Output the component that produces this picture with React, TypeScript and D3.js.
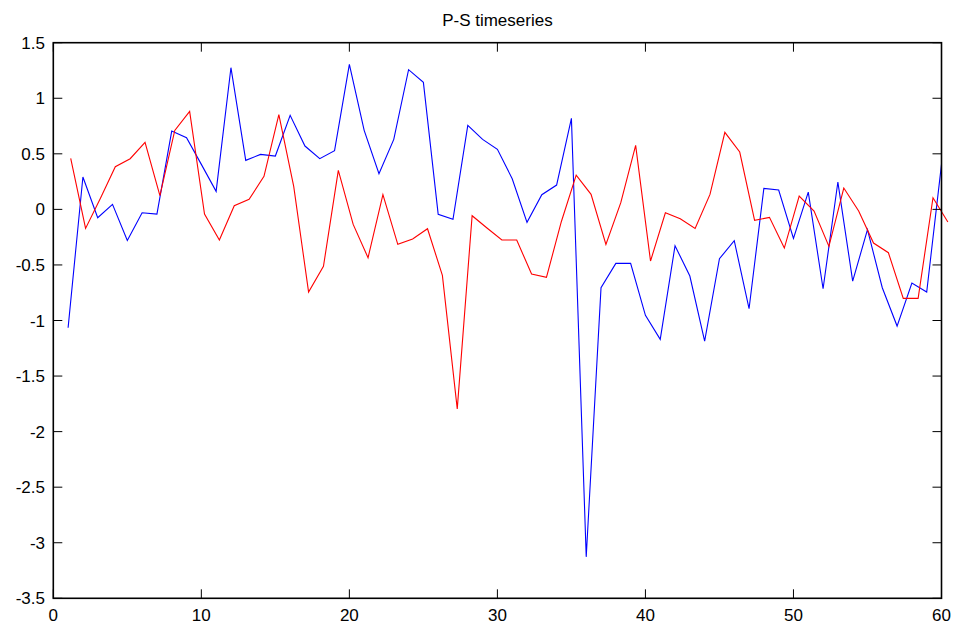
import React from "react";
import * as d3 from "d3";

// P and S series sampled over 60 steps
const pSeries: number[] = [
  -1.065, 0.291, -0.075, 0.045, -0.28, -0.03, -0.042, 0.705, 0.645, 0.405,
  0.162, 1.275, 0.441, 0.495, 0.48, 0.846, 0.57, 0.456, 0.528, 1.305,
  0.711, 0.321, 0.63, 1.257, 1.143, -0.045, -0.09, 0.756, 0.63, 0.54,
  0.276, -0.117, 0.132, 0.219, 0.819, -3.127, -0.705, -0.486, -0.486, -0.954,
  -1.17, -0.327, -0.6, -1.185, -0.444, -0.282, -0.894, 0.189, 0.174, -0.261,
  0.156, -0.714, 0.246, -0.645, -0.183, -0.705, -1.05, -0.663, -0.744, 0.405,
];

const sSeries: number[] = [
  0.459, -0.171, 0.1, 0.384, 0.456, 0.603, 0.123, 0.71, 0.882, -0.042,
  -0.276, 0.033, 0.09, 0.297, 0.852, 0.207, -0.744, -0.513, 0.351, -0.135,
  -0.435, 0.132, -0.315, -0.267, -0.174, -0.594, -1.795, -0.057, -0.168, -0.276,
  -0.276, -0.582, -0.612, -0.111, 0.309, 0.135, -0.315, 0.06, 0.576, -0.465,
  -0.03, -0.084, -0.171, 0.135, 0.693, 0.516, -0.099, -0.072, -0.348, 0.12,
  -0.015, -0.333, 0.192, -0.015, -0.303, -0.39, -0.801, -0.801, 0.105, -0.114,
];

// S samples sit on a slightly offset, slightly stretched time base
const sStart = 1.176;
const sStep = 1.0043;

const xTicks: number[] = [0, 10, 20, 30, 40, 50, 60];
const yTicks: number[] = [1.5, 1, 0.5, 0, -0.5, -1, -1.5, -2, -2.5, -3, -3.5];

const W = 959;
const H = 629;
const left = 53.3;
const right = 941.5;
const top = 42.7;
const bottom = 598.3;
const tickLen = 9;
const font = "Arial, 'Liberation Sans', sans-serif";

export default function App() {
  const x = d3.scaleLinear().domain([0, 60]).range([left, right]);
  const y = d3.scaleLinear().domain([-3.5, 1.5]).range([bottom, top]);

  const line = d3
    .line<[number, number]>()
    .x((d) => x(d[0]))
    .y((d) => y(d[1]));

  const pPts: [number, number][] = pSeries.map((v, i) => [i + 1, v]);
  const sPts: [number, number][] = sSeries.map((v, i) => [sStart + i * sStep, v]);

  return (
    <svg
      width={W}
      height={H}
      style={{ position: "fixed", left: 0, top: 0, background: "#fff" }}
    >
      <rect x={0} y={0} width={W} height={H} fill="#fff" />
      <text
        x={(left + right) / 2}
        y={26}
        textAnchor="middle"
        fontFamily={font}
        fontSize={17}
        fill="#000"
      >
        P-S timeseries
      </text>

      <path d={line(pPts) ?? ""} fill="none" stroke="#0000ff" strokeWidth={1.1} />
      <path d={line(sPts) ?? ""} fill="none" stroke="#ff0000" strokeWidth={1.1} />

      {/* ticks on all four sides, pointing inward */}
      {xTicks.map((t) => (
        <g key={"x" + t}>
          <line x1={x(t)} x2={x(t)} y1={bottom} y2={bottom - tickLen} stroke="#000" strokeWidth={1} />
          <line x1={x(t)} x2={x(t)} y1={top} y2={top + tickLen} stroke="#000" strokeWidth={1} />
          <text
            x={x(t)}
            y={621}
            textAnchor="middle"
            fontFamily={font}
            fontSize={17}
            fill="#000"
          >
            {t}
          </text>
        </g>
      ))}
      {yTicks.map((t) => (
        <g key={"y" + t}>
          <line x1={left} x2={left + tickLen} y1={y(t)} y2={y(t)} stroke="#000" strokeWidth={1} />
          <line x1={right} x2={right - tickLen} y1={y(t)} y2={y(t)} stroke="#000" strokeWidth={1} />
          <text
            x={45}
            y={y(t) + 6}
            textAnchor="end"
            fontFamily={font}
            fontSize={17}
            fill="#000"
          >
            {t}
          </text>
        </g>
      ))}

      <rect
        x={left}
        y={top}
        width={right - left}
        height={bottom - top}
        fill="none"
        stroke="#000"
        strokeWidth={1.6}
      />
    </svg>
  );
}
